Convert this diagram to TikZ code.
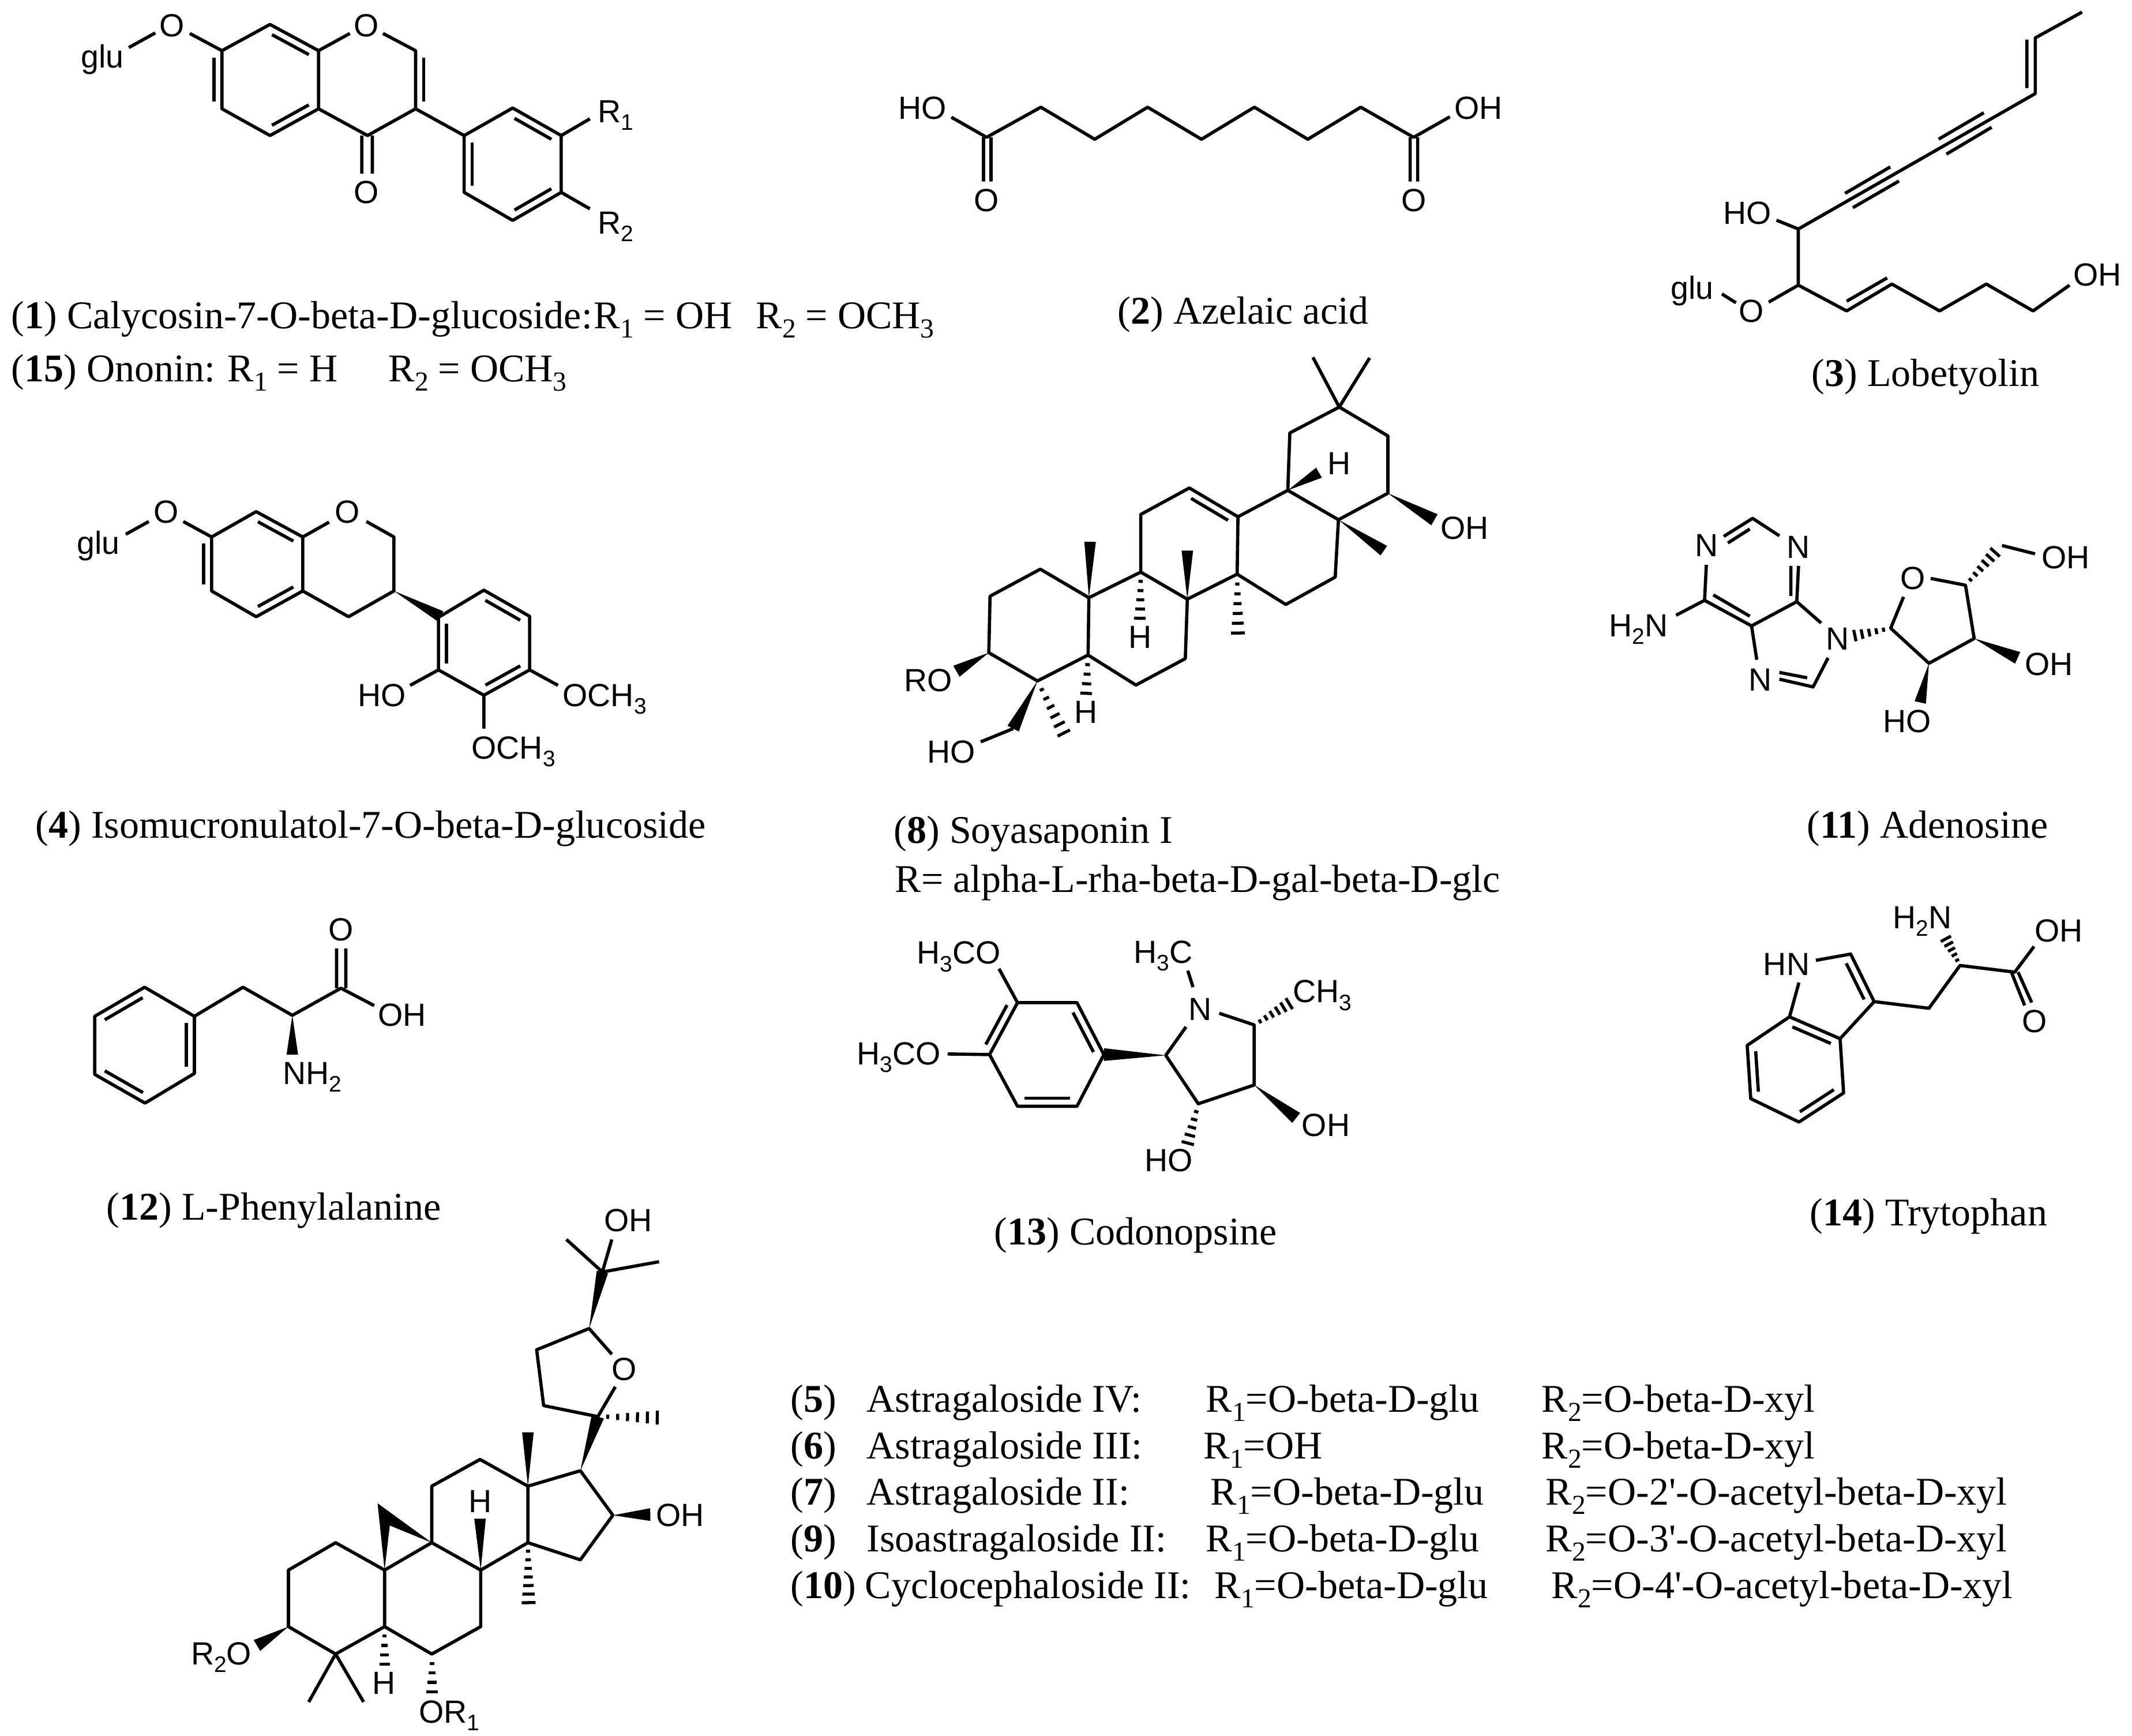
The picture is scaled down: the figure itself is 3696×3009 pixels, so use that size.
\documentclass[tikz,border=0pt]{standalone}
\usepackage{fontspec}
\setmainfont{Liberation Serif}
\setsansfont{Liberation Sans}
\usetikzlibrary{calc}
\newcommand\ssb[1]{\raisebox{-.24em}{\scalebox{.7}{#1}}}
\tikzset{
  bond/.style={line width=1.6pt,line join=round,line cap=butt,black},
  hbar/.style={line width=1.5pt,black},
  lab/.style={font=\fontsize{15.8}{18}\selectfont\sffamily,inner sep=0pt,text height=.716em,text depth=0pt,anchor=center,yshift=-0.06cm},
  capt/.style={font=\fontsize{19.35}{22}\selectfont\rmfamily,inner sep=0pt,anchor=base west}
}
% narrow end, wide end, half width
\newcommand\wdg[3]{\fill[black] (#1) -- ($(#2)!#3!90:(#1)$) -- ($(#2)!#3!-90:(#1)$) -- cycle;}
% narrow end, wide end, bars, half width in cm
\newcommand\hsh[4]{\foreach \hI in {1,...,#3}{\pgfmathsetmacro\hT{\hI/#3}\pgfmathsetmacro\hW{#4*\hT+0.02}\coordinate (hp) at ($(#1)!\hT!(#2)$);\draw[hbar] ($(hp)!\hW cm!90:(#1)$) -- ($(hp)!\hW cm!-90:(#1)$);}}
% inner line of a double bond, on the left of a->b as seen on the page
\newcommand\inr[2]{\draw[bond] ($(#1)!.12!(#2)!0.14cm!90:(#2)$) -- ($(#1)!.88!(#2)!0.14cm!-90:(#1)$);}
\newcommand\Alab[4]{\node[lab] (#1) at (#2,#3) {#4};}
\newcommand\Ctxt[4]{\node[capt] (#1) at (#2,#3) {#4};}
\begin{document}
\begin{tikzpicture}[x=0.01cm,y=-0.01cm]
\useasboundingbox (0,0) rectangle (3696,3009);
\fill[white] (0,0) rectangle (3696,3009);

% ---------- 1 / 15
\begin{scope}[shift={(0,0)},x=0.00765cm,y=-0.00446cm]
\path (503,197) coordinate (a1) (612,95) coordinate (a2) (722,197) coordinate (a3) (722,423) coordinate (a4) (612,527) coordinate (a5) (503,423) coordinate (a6)
 (942,197) coordinate (b1) (942,423) coordinate (b2) (833,527) coordinate (b3)
 (1052,527) coordinate (c1) (1162,420) coordinate (c2) (1272,527) coordinate (c3) (1272,748) coordinate (c4) (1162,857) coordinate (c5) (1052,748) coordinate (c6)
 (292,185) coordinate (g1) (352,128) coordinate (g2) (430,130) coordinate (g3) (793,130) coordinate (o1) (868,130) coordinate (o2)
 (1337,462) coordinate (r1) (1337,812) coordinate (r2)
 (820,527) coordinate (d1) (820,675) coordinate (d2) (844,527) coordinate (d3) (844,675) coordinate (d4);
\draw[bond] (a1)--(a2)--(a3)--(a4)--(a5)--(a6)--cycle (a3)--(o1) (o2)--(b1)--(b2)--(b3)--(a4) (b2)--(c1) (c1)--(c2)--(c3)--(c4)--(c5)--(c6)--cycle (g1)--(g2) (g3)--(a1) (c3)--(r1) (c4)--(r2) (d1)--(d2) (d3)--(d4);
\inr{a6}{a1}\inr{a3}{a2}\inr{a5}{a4}\inr{b1}{b2}\inr{c3}{c2}\inr{c5}{c4}\inr{c1}{c6}
\Alab{m1glu}{232}{222}{glu}\Alab{m1O}{390}{100}{O}\Alab{m1Or}{830}{100}{O}\Alab{m1Ok}{830}{750}{O}
\Alab{m1R}{1395}{435}{R\ssb{1}}\Alab{m1Rb}{1395}{868}{R\ssb{2}}
\end{scope}
\Ctxt{c1a}{19}{569}{(\textbf{1}) Calycosin-7-O-beta-D-glucoside:}
\Ctxt{c1b}{1029}{569}{R\ssb{1} = OH}
\Ctxt{c1c}{1310}{569}{R\ssb{2} = OCH\ssb{3}}
\Ctxt{c15a}{19}{661}{(\textbf{15}) Ononin:}
\Ctxt{c15b}{394}{661}{R\ssb{1} = H}
\Ctxt{c15c}{673}{661}{R\ssb{2} = OCH\ssb{3}}

% ---------- 2
\begin{scope}[shift={(1500,60)},x=0.00765cm,y=-0.00333cm]
\path (195,430) coordinate (h1) (275,535) coordinate (c1) (398,378) coordinate (c2) (520,545) coordinate (c3) (640,378) coordinate (c4) (762,545) coordinate (c5) (882,378) coordinate (c6) (1003,545) coordinate (c7) (1123,378) coordinate (c8) (1243,535) coordinate (c9) (1325,428) coordinate (h2)
 (268,535) coordinate (d1) (268,765) coordinate (d2) (285,535) coordinate (d3) (285,765) coordinate (d4) (1235,535) coordinate (e1) (1235,765) coordinate (e2) (1252,535) coordinate (e3) (1252,765) coordinate (e4);
\draw[bond] (h1)--(c1)--(c2)--(c3)--(c4)--(c5)--(c6)--(c7)--(c8)--(c9)--(h2) (d1)--(d2) (d3)--(d4) (e1)--(e2) (e3)--(e4);
\Alab{m2HO}{130}{385}{HO}\Alab{m2OH}{1390}{385}{OH}\Alab{m2Oa}{275}{865}{O}\Alab{m2Ob}{1243}{865}{O}
\end{scope}
\Ctxt{c2}{1937}{561}{(\textbf{2}) Azelaic acid}

% ---------- 3
\begin{scope}[shift={(2850,0)},x=0.005395cm,y=-0.00382cm]
\path (1405,55) coordinate (a) (1255,172) coordinate (b) (1255,425) coordinate (c) (1228,180) coordinate (b1) (1228,400) coordinate (c1) (495,1040) coordinate (d) (495,1295) coordinate (e)
 (945,632) coordinate (t1) (1090,512) coordinate (t2) (970,700) coordinate (t3) (1115,578) coordinate (t4) (645,878) coordinate (t5) (790,758) coordinate (t6) (670,943) coordinate (t7) (818,822) coordinate (t8)
 (425,1000) coordinate (h1) (400,1372) coordinate (o1) (295,1375) coordinate (o2) (250,1335) coordinate (o3)
 (650,1412) coordinate (f) (795,1290) coordinate (g) (650,1368) coordinate (f1) (780,1262) coordinate (g1) (948,1412) coordinate (i) (1098,1290) coordinate (j) (1248,1412) coordinate (k) (1365,1295) coordinate (l);
\draw[bond] (a)--(b)--(c)--(d)--(e)--(f)--(g)--(i)--(j)--(k)--(l) (b1)--(c1) (t1)--(t2) (t3)--(t4) (t5)--(t6) (t7)--(t8) (h1)--(d) (e)--(o1) (o2)--(o3) (f1)--(g1);
\Alab{m3HO}{332}{968}{HO}\Alab{m3O}{345}{1415}{O}\Alab{m3glu}{155}{1310}{glu}\Alab{m3OH}{1455}{1250}{OH}
\end{scope}
\Ctxt{c3}{3140}{669}{(\textbf{3}) Lobetyolin}

% ---------- 4
\begin{scope}[shift={(100,820)},x=0.007015cm,y=-0.00357cm]
\path (380,310) coordinate (a1) (490,187) coordinate (a2) (605,310) coordinate (a3) (605,572) coordinate (a4) (490,697) coordinate (a5) (380,572) coordinate (a6)
 (830,310) coordinate (b1) (830,572) coordinate (b2) (718,697) coordinate (b3) (670,238) coordinate (o1) (762,235) coordinate (o2)
 (168,297) coordinate (g1) (225,235) coordinate (g2) (310,235) coordinate (g3)
 (945,695) coordinate (w) (940,700) coordinate (c1) (1052,568) coordinate (c2) (1165,695) coordinate (c3) (1165,955) coordinate (c4) (1052,1078) coordinate (c5) (940,955) coordinate (c6)
 (870,1030) coordinate (h1) (1235,1030) coordinate (m1) (1052,1240) coordinate (m2);
\draw[bond] (a1)--(a2)--(a3)--(a4)--(a5)--(a6)--cycle (a3)--(o1) (o2)--(b1)--(b2)--(b3)--(a4) (g1)--(g2) (g3)--(a1) (c1)--(c2)--(c3)--(c4)--(c5)--(c6)--cycle (c6)--(h1) (c4)--(m1) (c5)--(m2);
\inr{a6}{a1}\inr{a3}{a2}\inr{a5}{a4}\inr{c3}{c2}\inr{c5}{c4}\inr{c1}{c6}
\wdg{b2}{w}{0.1cm}
\Alab{m4glu}{100}{340}{glu}\Alab{m4O}{268}{190}{O}\Alab{m4Or}{715}{190}{O}\Alab{m4HO}{800}{1080}{HO}\Alab{m4Ma}{1350}{1080}{OCH\ssb{3}}\Alab{m4Mb}{1125}{1335}{OCH\ssb{3}}
\end{scope}
\Ctxt{c4}{61}{1452}{(\textbf{4}) Isomucronulatol-7-O-beta-D-glucoside}

% ---------- 8
\begin{scope}[shift={(1500,600)},x=0.007015cm,y=-0.0051cm]
\path (1105,38) coordinate (m1) (1245,40) coordinate (m2) (1170,207) coordinate (q) (1048,295) coordinate (e1) (1290,305) coordinate (e2) (1290,500) coordinate (e3) (1168,590) coordinate (e4) (1043,490) coordinate (e5)
 (1120,430) coordinate (eh) (1405,590) coordinate (eo) (1280,695) coordinate (em)
 (920,580) coordinate (d1) (800,482) coordinate (d2) (680,572) coordinate (d3) (680,768) coordinate (d4) (795,860) coordinate (d5) (918,775) coordinate (d6) (1038,878) coordinate (f1) (1160,785) coordinate (f2)
 (920,975) coordinate (dm) (795,695) coordinate (dn) (678,925) coordinate (dh)
 (552,855) coordinate (c1) (555,665) coordinate (cm) (432,758) coordinate (c2) (308,850) coordinate (c3) (305,1042) coordinate (c4) (425,1138) coordinate (c5) (550,1050) coordinate (c6) (668,1152) coordinate (g1) (790,1062) coordinate (g2)
 (545,1180) coordinate (ch) (225,1105) coordinate (co) (365,1300) coordinate (cw) (285,1345) coordinate (ho) (490,1315) coordinate (cx);
\draw[bond] (m1)--(q)--(m2) (e1)--(q)--(e2)--(e3)--(e4)--(e5)--cycle (e5)--(d1) (d1)--(d2)--(d3)--(d4)--(d5)--(d6)--cycle (d6)--(f1)--(f2)--(e4) (d4)--(c1) (c1)--(c2)--(c3)--(c4)--(c5)--(c6)--cycle (c6)--(g1)--(g2)--(d5) (cw)--(ho);
\inr{d1}{d2}
\wdg{e5}{eh}{0.1cm}\wdg{e3}{eo}{0.11cm}\wdg{e4}{em}{0.1cm}\wdg{d5}{dn}{0.1cm}\wdg{c1}{cm}{0.1cm}\wdg{c4}{co}{0.11cm}\wdg{c5}{cw}{0.11cm}
\hsh{d6}{dm}{6}{0.1}\hsh{d4}{dh}{5}{0.08}\hsh{c6}{ch}{4}{0.08}\hsh{c5}{cx}{6}{0.1}
\Alab{m8H}{1170}{400}{H}\Alab{m8OH}{1480}{620}{OH}\Alab{m8Hb}{678}{990}{H}\Alab{m8Hc}{545}{1245}{H}\Alab{m8RO}{155}{1138}{RO}\Alab{m8HO}{212}{1380}{HO}
\end{scope}
\Ctxt{c8a}{1549}{1461}{(\textbf{8}) Soyasaponin I}
\Ctxt{c8b}{1551}{1546}{R= alpha-L-rha-beta-D-gal-beta-D-glc}

% ---------- 11
\begin{scope}[shift={(2750,880)},x=0.00603cm,y=-0.00335cm]
\path (478,55) coordinate (c2) (395,148) coordinate (n1) (470,110) coordinate (i1) (407,182) coordinate (i2) (555,145) coordinate (n3)
 (345,295) coordinate (n1b) (340,478) coordinate (c6) (475,610) coordinate (c5) (365,450) coordinate (i3) (470,560) coordinate (i4) (605,485) coordinate (c4) (610,300) coordinate (n3a) (588,300) coordinate (i5) (588,455) coordinate (i6)
 (258,555) coordinate (nh) (490,785) coordinate (n7) (555,885) coordinate (n7a) (652,925) coordinate (c8) (555,850) coordinate (i7) (635,878) coordinate (i8) (695,775) coordinate (n9a) (675,595) coordinate (n9b)
 (875,622) coordinate (s1) (772,660) coordinate (s1n) (912,460) coordinate (o1) (990,365) coordinate (o2) (1090,400) coordinate (s4) (1115,675) coordinate (s3) (985,803) coordinate (s2)
 (1240,775) coordinate (w1) (960,1005) coordinate (w2) (1175,230) coordinate (w3) (1195,195) coordinate (t1) (1290,238) coordinate (t2);
\draw[bond] (n1)--(c2)--(n3) (i1)--(i2) (n1b)--(c6)--(c5)--(c4)--(n3a) (i3)--(i4) (i5)--(i6) (c6)--(nh) (c5)--(n7) (n7a)--(c8)--(n9a) (i7)--(i8) (c4)--(n9b) (o1)--(s1)--(s2)--(s3)--(s4)--(o2) (t1)--(t2);
\wdg{s3}{w1}{0.11cm}\wdg{s2}{w2}{0.1cm}
\hsh{s1}{s1n}{5}{0.08}\hsh{s4}{w3}{6}{0.09}
\Alab{m11Na}{345}{195}{N}\Alab{m11Nb}{610}{205}{N}\Alab{m11NH}{150}{610}{H\ssb{2}N}\Alab{m11Nc}{500}{890}{N}\Alab{m11Nd}{722}{680}{N}\Alab{m11O}{938}{365}{O}\Alab{m11OHa}{1378}{258}{OH}\Alab{m11OHb}{1330}{810}{OH}\Alab{m11HO}{922}{1105}{HO}
\end{scope}
\Ctxt{c11}{3132}{1452}{(\textbf{11}) Adenosine}

% ---------- 12
\begin{scope}[shift={(120,1560)},x=0.00421cm,y=-0.00335cm]
\path (310,450) coordinate (a1) (515,600) coordinate (a2) (515,895) coordinate (a3) (312,1048) coordinate (a4) (105,900) coordinate (a5) (105,600) coordinate (a6)
 (715,450) coordinate (b) (918,595) coordinate (c) (1118,455) coordinate (d) (918,798) coordinate (w) (1255,545) coordinate (h)
 (1100,455) coordinate (e1) (1100,250) coordinate (e2) (1138,455) coordinate (e3) (1138,250) coordinate (e4);
\draw[bond] (a1)--(a2)--(a3)--(a4)--(a5)--(a6)--cycle (a2)--(b)--(c)--(d)--(h) (e1)--(e2) (e3)--(e4);
\inr{a1}{a6}\inr{a3}{a2}\inr{a5}{a4}
\wdg{c}{w}{0.1cm}
\Alab{m12O}{1118}{155}{O}\Alab{m12OH}{1370}{595}{OH}\Alab{m12NH}{1000}{895}{NH\ssb{2}}
\end{scope}
\Ctxt{c12}{184}{2114}{(\textbf{12}) L-Phenylalanine}

% ---------- 13
\begin{scope}[shift={(1450,1580)},x=0.00606cm,y=-0.00335cm]
\path (518,470) coordinate (a) (688,470) coordinate (b) (765,738) coordinate (c) (688,1005) coordinate (d) (518,1005) coordinate (e) (438,738) coordinate (f)
 (465,295) coordinate (m1) (318,735) coordinate (m2) (942,742) coordinate (g) (1000,595) coordinate (n1) (1095,525) coordinate (n2) (1195,585) coordinate (h) (1195,895) coordinate (i) (1035,992) coordinate (j)
 (1020,390) coordinate (n3) (1005,305) coordinate (n4) (1295,475) coordinate (hm) (1315,1065) coordinate (io) (1005,1195) coordinate (jo);
\draw[bond] (a)--(b)--(c)--(d)--(e)--(f)--cycle (a)--(m1) (f)--(m2) (n1)--(g)--(j)--(i)--(h)--(n2) (n3)--(n4);
\inr{f}{a}\inr{c}{b}\inr{e}{d}
\wdg{g}{c}{0.11cm}\wdg{i}{io}{0.11cm}
\hsh{h}{hm}{6}{0.09}\hsh{j}{jo}{5}{0.09}
\Alab{m13Ma}{350}{215}{H\ssb{3}CO}\Alab{m13Mb}{178}{735}{H\ssb{3}CO}\Alab{m13Mc}{935}{210}{H\ssb{3}C}\Alab{m13N}{1040}{505}{N}\Alab{m13Md}{1390}{415}{CH\ssb{3}}\Alab{m13OH}{1400}{1105}{OH}\Alab{m13HO}{950}{1285}{HO}
\end{scope}
\Ctxt{c13}{1723}{2157}{(\textbf{13}) Codonopsine}

% ---------- 14
\begin{scope}[shift={(2980,1530)},x=0.00408cm,y=-0.0033cm]
\path (300,705) coordinate (a) (515,820) coordinate (b) (530,1105) coordinate (c) (340,1258) coordinate (d) (135,1135) coordinate (e) (120,855) coordinate (f)
 (340,525) coordinate (n1) (412,408) coordinate (n2) (560,375) coordinate (g) (660,625) coordinate (h) (893,660) coordinate (i) (1025,435) coordinate (j) (1258,470) coordinate (k) (1340,335) coordinate (l)
 (1245,475) coordinate (p1) (1300,645) coordinate (p2) (1272,470) coordinate (p3) (1330,630) coordinate (p4) (965,295) coordinate (w);
\draw[bond] (a)--(b)--(c)--(d)--(e)--(f)--cycle (a)--(n1) (n2)--(g)--(h)--(b) (h)--(i)--(j)--(k)--(l) (p1)--(p2) (p3)--(p4);
\inr{b}{a}\inr{d}{c}\inr{f}{e}\inr{h}{g}
\hsh{j}{w}{5}{0.08}
\Alab{m14HN}{287}{430}{HN}\Alab{m14NH}{865}{185}{H\ssb{2}N}\Alab{m14OH}{1445}{255}{OH}\Alab{m14O}{1342}{730}{O}
\end{scope}
\Ctxt{c14}{3137}{2124}{(\textbf{14}) Trytophan}

% ---------- 5 6 7 9 10
\begin{scope}[shift={(300,2080)},x=0.00606cm,y=-0.00593cm]
\path (330,1080) coordinate (a1) (465,1000) coordinate (a2) (605,1080) coordinate (a3) (605,1245) coordinate (a4) (465,1325) coordinate (a5) (330,1245) coordinate (a6)
 (388,1465) coordinate (m1) (545,1465) coordinate (m2) (240,1300) coordinate (ro) (605,1355) coordinate (ah)
 (740,1000) coordinate (b1) (740,835) coordinate (b2) (878,757) coordinate (b3) (1015,835) coordinate (b4) (1015,1000) coordinate (b5) (880,1080) coordinate (b6) (880,1245) coordinate (b7) (740,1325) coordinate (b8)
 (585,885) coordinate (cp) (620,950) coordinate (cq) (878,930) coordinate (bw) (1015,678) coordinate (bm) (1017,1175) coordinate (bn) (740,1435) coordinate (bo)
 (1165,790) coordinate (d1) (1258,920) coordinate (d2) (1165,1050) coordinate (d3) (1365,918) coordinate (do)
 (1215,632) coordinate (e1) (1060,600) coordinate (e2) (1040,437) coordinate (e3) (1190,375) coordinate (e4) (1255,450) coordinate (o1) (1265,545) coordinate (o2) (1385,635) coordinate (em)
 (1228,210) coordinate (f) (1125,115) coordinate (f1) (1390,180) coordinate (f2) (1255,115) coordinate (f3);
\draw[bond] (a1)--(a2)--(a3)--(a4)--(a5)--(a6)--cycle (a5)--(m1) (a5)--(m2) (a3)--(b1) (b1)--(b2)--(b3)--(b4)--(b5)--(b6)--cycle (b6)--(b7)--(b8)--(a4) (b4)--(d1)--(d2)--(d3)--(b5) (o2)--(e1)--(e2)--(e3)--(e4)--(o1) (f1)--(f)--(f2) (f)--(f3);
\fill[black] (a3)--(cp)--(cq)--cycle (b1)--(cp)--(cq)--cycle;
\wdg{a6}{ro}{0.11cm}\wdg{b6}{bw}{0.1cm}\wdg{b4}{bm}{0.1cm}\wdg{d2}{do}{0.11cm}\wdg{d1}{e1}{0.11cm}\wdg{e4}{f}{0.1cm}
\hsh{a4}{ah}{4}{0.07}\hsh{b5}{bn}{7}{0.1}\hsh{b8}{bo}{4}{0.08}\hsh{e1}{em}{6}{0.1}
\Alab{m5RO}{138}{1325}{R\ssb{2}O}\Alab{m5H}{603}{1410}{H}\Alab{m5OR}{790}{1495}{OR\ssb{1}}\Alab{m5Hb}{878}{880}{H}\Alab{m5OHa}{1450}{920}{OH}\Alab{m5O}{1290}{495}{O}\Alab{m5OHb}{1302}{60}{OH}
\end{scope}

\Ctxt{t5a}{1370}{2447}{(\textbf{5})}\Ctxt{t5b}{1502}{2447}{Astragaloside IV:}\Ctxt{t5c}{2090}{2447}{R\ssb{1}=O-beta-D-glu}\Ctxt{t5d}{2672}{2447}{R\ssb{2}=O-beta-D-xyl}
\Ctxt{t6a}{1370}{2528}{(\textbf{6})}\Ctxt{t6b}{1502}{2528}{Astragaloside III:}\Ctxt{t6c}{2086}{2528}{R\ssb{1}=OH}\Ctxt{t6d}{2672}{2528}{R\ssb{2}=O-beta-D-xyl}
\Ctxt{t7a}{1370}{2608}{(\textbf{7})}\Ctxt{t7b}{1502}{2608}{Astragaloside II:}\Ctxt{t7c}{2098}{2608}{R\ssb{1}=O-beta-D-glu}\Ctxt{t7d}{2679}{2608}{R\ssb{2}=O-2\textquotesingle-O-acetyl-beta-D-xyl}
\Ctxt{t9a}{1370}{2689}{(\textbf{9})}\Ctxt{t9b}{1502}{2689}{Isoastragaloside II:}\Ctxt{t9c}{2090}{2689}{R\ssb{1}=O-beta-D-glu}\Ctxt{t9d}{2679}{2689}{R\ssb{2}=O-3\textquotesingle-O-acetyl-beta-D-xyl}
\Ctxt{t10a}{1370}{2770}{(\textbf{10})}\Ctxt{t10b}{1499}{2770}{Cyclocephaloside II:}\Ctxt{t10c}{2105}{2770}{R\ssb{1}=O-beta-D-glu}\Ctxt{t10d}{2689}{2770}{R\ssb{2}=O-4\textquotesingle-O-acetyl-beta-D-xyl}
\end{tikzpicture}
\end{document}
